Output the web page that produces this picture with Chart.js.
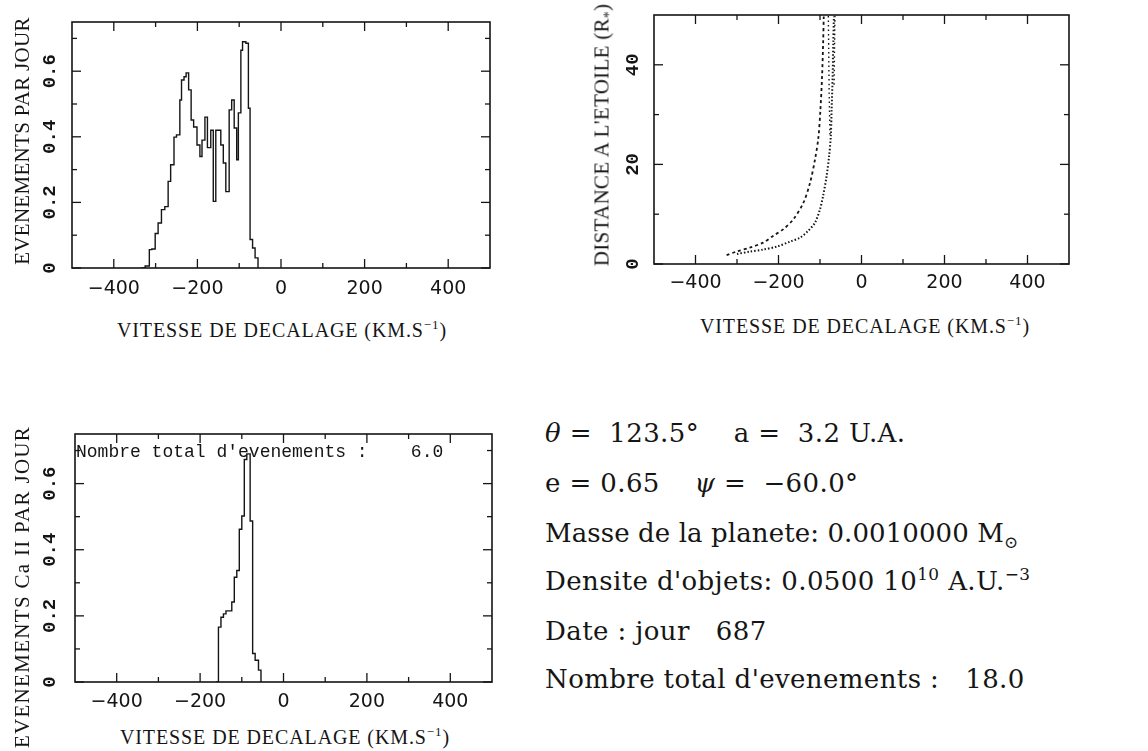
<!DOCTYPE html>
<html lang="fr">
<head>
<meta charset="utf-8">
<title>Evenements par jour et vitesse de decalage</title>
<script src="https://cdn.jsdelivr.net/npm/chart.js@4.4.1/dist/chart.umd.min.js"></script>
<style>
  body { margin: 0; background: #fff; }
  #page { position: relative; width: 1148px; height: 751px; overflow: hidden; color: #151515; }
  canvas { position: absolute; }
  .ytitle, .xtitle, .note { position: absolute; white-space: pre; font-family: "Liberation Serif", serif; font-size: 20px; }
  .ytitle { font-size: 21px; letter-spacing: 0.3px; transform: translate(-50%, -50%) rotate(-90deg); }
  .xtitle { transform: translate(-50%, -50%); letter-spacing: 0.9px; }
  .note { font-family: "Liberation Mono", monospace; font-size: 18px; }
  .params div { position: absolute; left: 545px; white-space: pre; font-family: "DejaVu Serif", serif; font-size: 26px; letter-spacing: 0.4px; line-height: 30px; }
  sup, sub { line-height: 0; font-size: 0.65em; }
</style>
</head>
<body>
<div id="page">
  <canvas id="rateChart" width="520" height="300" style="left:0;top:0"></canvas>
  <canvas id="distChart" width="540" height="300" style="left:560px;top:0"></canvas>
  <canvas id="caChart" width="520" height="310" style="left:0;top:410px"></canvas>

  <div class="ytitle" style="left:22px;top:141px">EVENEMENTS PAR JOUR</div>
  <div class="xtitle" style="left:282px;top:330px">VITESSE DE DECALAGE (KM.S<sup>−1</sup>)</div>

  <div class="ytitle" style="left:602px;top:135px">DISTANCE A L'ETOILE (R<sub>*</sub>)</div>
  <div class="xtitle" style="left:865px;top:326px">VITESSE DE DECALAGE (KM.S<sup>−1</sup>)</div>

  <div class="ytitle" style="left:22px;top:587px;letter-spacing:1.3px">EVENEMENTS Ca II PAR JOUR</div>
  <div class="xtitle" style="left:285px;top:737px">VITESSE DE DECALAGE (KM.S<sup>−1</sup>)</div>
  <div class="note" style="left:76px;top:442px">Nombre total d'evenements :    6.0</div>

  <div class="params">
    <div style="top:418px"><i>θ</i> =  123.5°    a =  3.2 U.A.</div>
    <div style="top:468px">e = 0.65    <i>ψ</i> =  −60.0°</div>
    <div style="top:518px;letter-spacing:0.1px">Masse de la planete: 0.0010000 M<sub>⊙</sub></div>
    <div style="top:566px">Densite d'objets: 0.0500 10<sup>10</sup> A.U.<sup>−3</sup></div>
    <div style="top:616px">Date : jour   687</div>
    <div style="top:664px">Nombre total d'evenements :   18.0</div>
  </div>
</div>

<script>
// Axes communs
const xMajorTicks = [-400, -200, 0, 200, 400];
const xMinorTicks = [-300, -100, 100, 300];
const rateTicks = [0, 0.2, 0.4, 0.6];
const rateMinorTicks = [0.1, 0.3, 0.5, 0.7];
const distTicks = [0, 20, 40];
const distMinorTicks = [10, 30];

// Histogramme du haut : bord gauche de chaque classe (km/s) et taux
const velEdgesAll = [-335, -325, -315, -309, -301, -294, -286, -278, -270, -264, -256, -250, -242, -238, -232,
  -227, -221, -215, -209, -201, -194, -189, -182, -176, -168, -162, -156, -144, -138, -132, -124, -118, -112,
  -106, -102, -96, -92, -84, -78, -74, -68, -62, -55];
const ratesAll = [0, 0.006, 0.056, 0.058, 0.105, 0.137, 0.178, 0.187, 0.264, 0.315, 0.399, 0.406, 0.512, 0.573, 0.583,
  0.595, 0.543, 0.451, 0.43, 0.375, 0.34, 0.39, 0.46, 0.367, 0.42, 0.203, 0.42, 0.375, 0.32, 0.233, 0.482, 0.512, 0.427,
  0.33, 0.473, 0.664, 0.69, 0.685, 0.487, 0.087, 0.061, 0.031, 0];

// Histogramme Ca II
const velEdgesCa = [-162, -156, -150, -144, -138, -124, -118, -112, -106, -100, -94, -88, -80, -74, -68, -60, -54];
const ratesCa = [0, 0.166, 0.196, 0.206, 0.215, 0.242, 0.317, 0.337, 0.462, 0.502, 0.673, 0.69, 0.487, 0.086, 0.066, 0.036, 0];

// Distance a l'etoile en fonction de la vitesse
const outerVel = [-325, -301, -269, -237, -212, -188, -164, -140, -124, -112, -104, -99, -95, -92.5, -91];
const outerDist = [1.8, 2.5, 3.3, 4.3, 5.7, 7, 9, 12.3, 16.3, 21, 25.3, 31, 37.7, 44.3, 49.7];
const innerVel = [-300, -269, -237, -204, -172, -148, -128, -112, -100, -92.5, -84, -78, -74, -72, -69.5, -68, -66.5];
const innerDist = [2, 2.5, 2.9, 3.5, 4.5, 5.3, 6.7, 8.3, 11, 13.7, 17.7, 21.7, 25.7, 31, 37.7, 44.3, 49.7];
const midVel = [-76, -78, -79, -80];
const midDist = [26, 35, 43, 50];
const farVel = [-66, -65, -64];
const farDist = [36, 43, 50];

const INK = '#151515';

function toPoints(xs, ys) {
    return xs.map((x, i) => ({ x: x, y: ys[i] }));
}

function fmtVel(v) {
    return v < 0 ? '\u2212' + Math.abs(v) : String(v);
}

// Cadre, graduations interieures et etiquettes verticales
function framePlugin(yMajor, yMinor, yLabelX) {
    return {
        id: 'frameTicks',
        afterDraw(chart) {
            const { ctx, chartArea: a, scales } = chart;
            const x = scales.x, y = scales.y;
            const seg = (x1, y1, x2, y2) => {
                ctx.beginPath(); ctx.moveTo(x1, y1); ctx.lineTo(x2, y2); ctx.stroke();
            };
            ctx.save();
            ctx.strokeStyle = INK;
            ctx.lineWidth = 1.6;
            ctx.strokeRect(a.left, a.top, a.right - a.left, a.bottom - a.top);
            ctx.lineWidth = 1.3;
            const xTick = (v, len) => {
                const p = x.getPixelForValue(v);
                seg(p, a.bottom, p, a.bottom - len);
                seg(p, a.top, p, a.top + len);
            };
            const yTick = (v, len) => {
                const p = y.getPixelForValue(v);
                seg(a.left, p, a.left + len, p);
                seg(a.right, p, a.right - len, p);
            };
            xMajorTicks.forEach(v => xTick(v, 9));
            xMinorTicks.forEach(v => xTick(v, 5));
            yMajor.forEach(v => yTick(v, 9));
            yMinor.forEach(v => yTick(v, 5));

            ctx.fillStyle = INK;
            ctx.font = 'bold 19px "Liberation Mono", "DejaVu Sans Mono", monospace';
            ctx.textAlign = 'center';
            ctx.textBaseline = 'middle';
            yMajor.forEach(v => {
                const p = y.getPixelForValue(v);
                ctx.save();
                ctx.translate(yLabelX, p);
                ctx.rotate(-Math.PI / 2);
                ctx.fillText(String(v), 0, 0);
                ctx.restore();
            });
            ctx.restore();
        }
    };
}

function xScale(height, pad) {
    return {
        type: 'linear',
        min: -500,
        max: 500,
        grid: { display: false },
        border: { display: false },
        ticks: {
            autoSkip: false,
            maxRotation: 0,
            padding: pad,
            color: INK,
            font: { family: 'DejaVu Sans', size: 19 },
            callback: v => fmtVel(v)
        },
        afterBuildTicks: s => { s.ticks = xMajorTicks.map(v => ({ value: v })); },
        afterFit: s => { s.height = height; }
    };
}

function yScale(max, width) {
    return {
        min: 0,
        max: max,
        grid: { display: false },
        border: { display: false },
        ticks: { display: false },
        afterFit: s => { s.width = width; }
    };
}

const baseOptions = {
    responsive: false,
    animation: false,
    devicePixelRatio: 1,
    plugins: { legend: { display: false }, tooltip: { enabled: false } }
};

function makeHistogram(id, edges, rates, padding, xHeight, yWidth, xPad) {
    new Chart(document.getElementById(id), {
        type: 'line',
        data: {
            datasets: [{
                data: toPoints(edges, rates),
                stepped: true,
                borderColor: INK,
                borderWidth: 1.4,
                pointRadius: 0,
                fill: false
            }]
        },
        options: Object.assign({}, baseOptions, {
            layout: { padding: padding },
            scales: { x: xScale(xHeight, xPad), y: yScale(0.75, yWidth) }
        }),
        plugins: [framePlugin(rateTicks, rateMinorTicks, 50)]
    });
}

makeHistogram('rateChart', velEdgesAll, ratesAll, { left: 0, top: 22, right: 30, bottom: 0 }, 32, 72, 2);
makeHistogram('caChart', velEdgesCa, ratesCa, { left: 0, top: 24, right: 28, bottom: 0 }, 38, 75, 1);

// Courbes distance / vitesse
function curve(xs, ys, dash, width) {
    return {
        data: toPoints(xs, ys),
        showLine: true,
        borderColor: INK,
        borderWidth: width,
        borderDash: dash,
        pointRadius: 0,
        tension: 0.3,
        fill: false
    };
}

new Chart(document.getElementById('distChart'), {
    type: 'scatter',
    data: {
        datasets: [
            curve(outerVel, outerDist, [3, 3], 1.8),
            curve(innerVel, innerDist, [1.5, 2], 2),
            curve(midVel, midDist, [1.5, 3], 1.4),
            curve(farVel, farDist, [1.5, 3], 1.4)
        ]
    },
    options: Object.assign({}, baseOptions, {
        layout: { padding: { left: 0, top: 15, right: 31, bottom: 0 } },
        scales: { x: xScale(36, 0), y: yScale(50, 94) }
    }),
    plugins: [framePlugin(distTicks, distMinorTicks, 73)]
});
</script>
</body>
</html>
